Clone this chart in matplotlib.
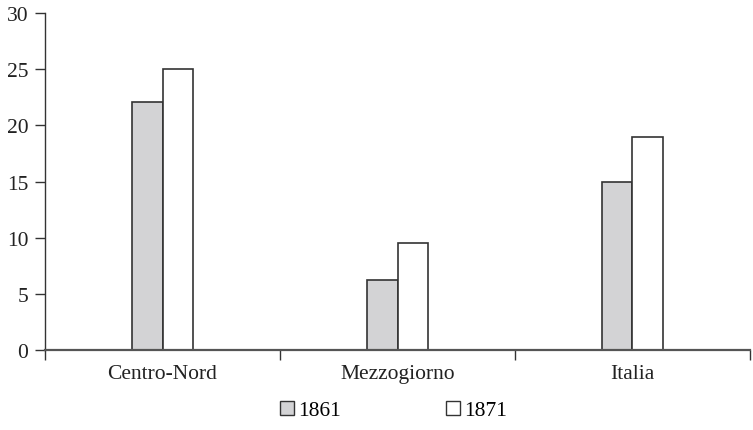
import matplotlib
matplotlib.use("Agg")
import matplotlib.pyplot as plt
from matplotlib.patches import Patch
import numpy as np

categories = ["Centro-Nord", "Mezzogiorno", "Italia"]
series_names = ["1861", "1871"]
values_1861 = [22.1, 6.2, 15.0]
values_1871 = [25.0, 9.5, 19.0]
yticks = [0, 5, 10, 15, 20, 25, 30]

plt.rcParams['font.family'] = ['Liberation Serif', 'DejaVu Serif']
FS = 15.5

fig = plt.figure(figsize=(7.53, 4.31), dpi=100)
ax = fig.add_axes([0.0598, 0.1856, 0.9362, 0.7819])

x = np.arange(len(categories))
w = 0.128
edge = "#333333"
ax.bar(x - w/2, values_1861, w, color="#d3d3d5", edgecolor=edge, linewidth=1.2, label=series_names[0], zorder=3)
ax.bar(x + w/2, values_1871, w, color="white", edgecolor=edge, linewidth=1.2, label=series_names[1], zorder=3)

ax.set_xlim(-0.5, len(categories) - 0.5)
ax.set_ylim(0, 30)
ax.set_yticks(yticks)
ax.set_yticklabels([str(t) for t in yticks], fontsize=FS, color="#222222")

ax.set_xticks(np.arange(len(categories) + 1) - 0.5)
ax.set_xticklabels([])
ax.set_xticks(x, minor=True)
ax.set_xticklabels(categories, minor=True, fontsize=FS, color="#222222")
ax.tick_params(axis='x', which='minor', length=0, pad=10)
ax.tick_params(axis='x', which='major', length=7, direction='out', color="#333333", width=1)
ax.tick_params(axis='y', length=7, direction='out', color="#333333", width=1, pad=5)

for s in ["top", "right"]:
    ax.spines[s].set_visible(False)
ax.spines["left"].set_color("#333333")
ax.spines["left"].set_linewidth(1.0)
ax.spines["bottom"].set_color("#555555")
ax.spines["bottom"].set_linewidth(1.6)
ax.spines["bottom"].set_zorder(4)

handles = [Patch(facecolor="#d3d3d5", edgecolor=edge, linewidth=1.0),
           Patch(facecolor="white", edgecolor=edge, linewidth=1.0)]
fig.legend(handles, series_names, loc="center", bbox_to_anchor=(0.5226, 0.045), ncol=2,
           frameon=False, fontsize=FS, handlelength=0.62, handleheight=0.62,
           handletextpad=0.2, columnspacing=4.9)

fig.savefig("out.png", dpi=100)
